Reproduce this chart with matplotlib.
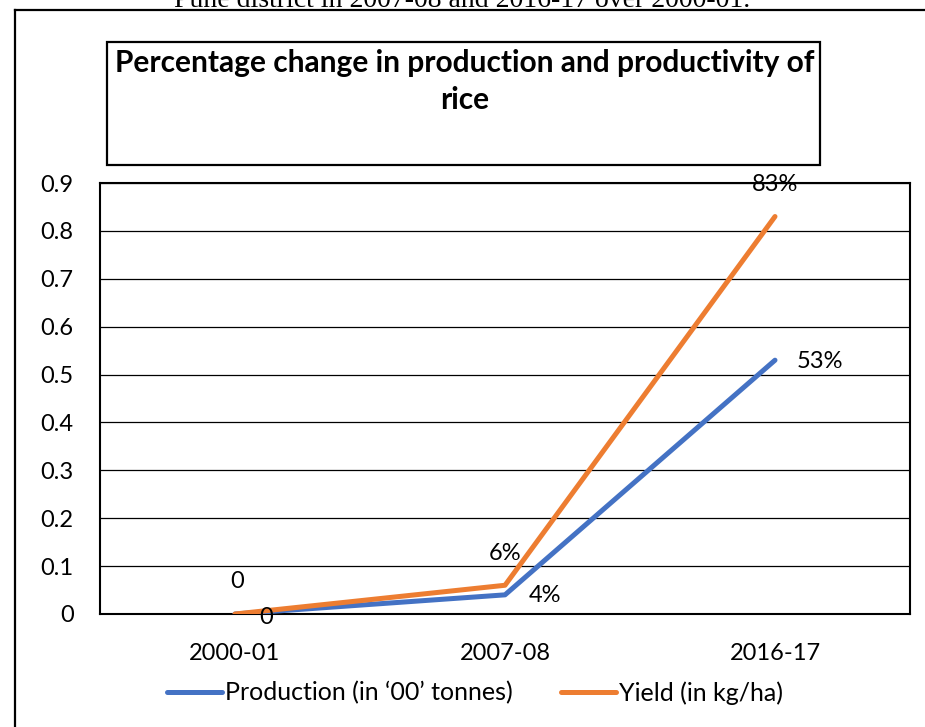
import matplotlib
matplotlib.use("Agg")
import matplotlib.pyplot as plt
from matplotlib.patches import Rectangle
from matplotlib.lines import Line2D

categories = ["2000-01", "2007-08", "2016-17"]
production = [0.0, 0.04, 0.53]
yield_vals = [0.0, 0.06, 0.83]
prod_labels = ["0", "4%", "53%"]
yield_labels = ["0", "6%", "83%"]
yticks = [0, 0.1, 0.2, 0.3, 0.4, 0.5, 0.6, 0.7, 0.8, 0.9]
ytick_labels = ["0", "0.1", "0.2", "0.3", "0.4", "0.5", "0.6", "0.7", "0.8", "0.9"]

W, H = 925, 727
plt.rcParams['font.family'] = ['Lato', 'DejaVu Sans']
fig = plt.figure(figsize=(W/100, H/100), dpi=100)
fig.patch.set_facecolor('white')

def fx(px):
    return px / W
def fy(py):
    return 1 - py / H

# clipped caption at top (cut off in the reference too)
fig.text(fx(462), fy(7), "Pune district in 2007-08 and 2016-17 over 2000-01.",
         family='Liberation Serif', fontsize=20, ha='center', va='baseline')

# outer border
fig.add_artist(Line2D([fx(15), fx(15)], [fy(10), 0], transform=fig.transFigure, color='black', lw=1.6))
fig.add_artist(Line2D([fx(15), 1], [fy(10), fy(10)], transform=fig.transFigure, color='black', lw=1.6))

# title box
fig.add_artist(Rectangle((fx(107), fy(165)), fx(820) - fx(107), fy(42) - fy(165),
                         transform=fig.transFigure, facecolor='white', edgecolor='black', lw=1.6))
fig.text(fx(465), fy(63), "Percentage change in production and productivity of",
         fontsize=21.5, fontweight='bold', ha='center', va='center')
fig.text(fx(465), fy(100), "rice", fontsize=21.5, fontweight='bold', ha='center', va='center')

ax = fig.add_axes([fx(100), fy(614), fx(910) - fx(100), fy(183) - fy(614)])
x = list(range(len(categories)))
blue = '#4472C4'
orange = '#ED7D31'
ax.plot(x, production, color=blue, lw=3.6, solid_capstyle='round', label="Production (in \u201800\u2019 tonnes)", zorder=3)
ax.plot(x, yield_vals, color=orange, lw=3.6, solid_capstyle='round', label="Yield (in kg/ha)", zorder=4)

ax.set_xlim(-0.5, 2.5)
ax.set_ylim(0, 0.9)
ax.set_yticks(yticks)
ax.set_yticklabels(ytick_labels)
ax.set_xticks(x)
ax.set_xticklabels(categories)
ax.tick_params(axis='both', length=0, labelsize=17)
ax.tick_params(axis='y', pad=19)
ax.tick_params(axis='x', pad=21)
ax.grid(axis='y', color='black', lw=0.9)
ax.set_axisbelow(True)
for s in ax.spines.values():
    s.set_color('black')
    s.set_linewidth(1.5)

p = 0.72
prod_off = [(31, -3), (40, -1), (45, -1)]
yield_off = [(2, 32), (0, 32), (0, 32)]
for i in x:
    ax.annotate(prod_labels[i], (x[i], production[i]), xytext=(prod_off[i][0]*p, prod_off[i][1]*p),
                textcoords='offset points', ha='center', va='center', fontsize=17, zorder=5)
    ax.annotate(yield_labels[i], (x[i], yield_vals[i]), xytext=(yield_off[i][0]*p, yield_off[i][1]*p),
                textcoords='offset points', ha='center', va='center', fontsize=17, zorder=5)

leg = fig.legend(loc='center', bbox_to_anchor=(fx(475), fy(693)), ncol=2, frameon=False,
                 fontsize=18, handlelength=2.2, handletextpad=0.12, columnspacing=1.9)
for line in leg.get_lines():
    line.set_linewidth(3.6)

fig.savefig("out.png", dpi=100)
